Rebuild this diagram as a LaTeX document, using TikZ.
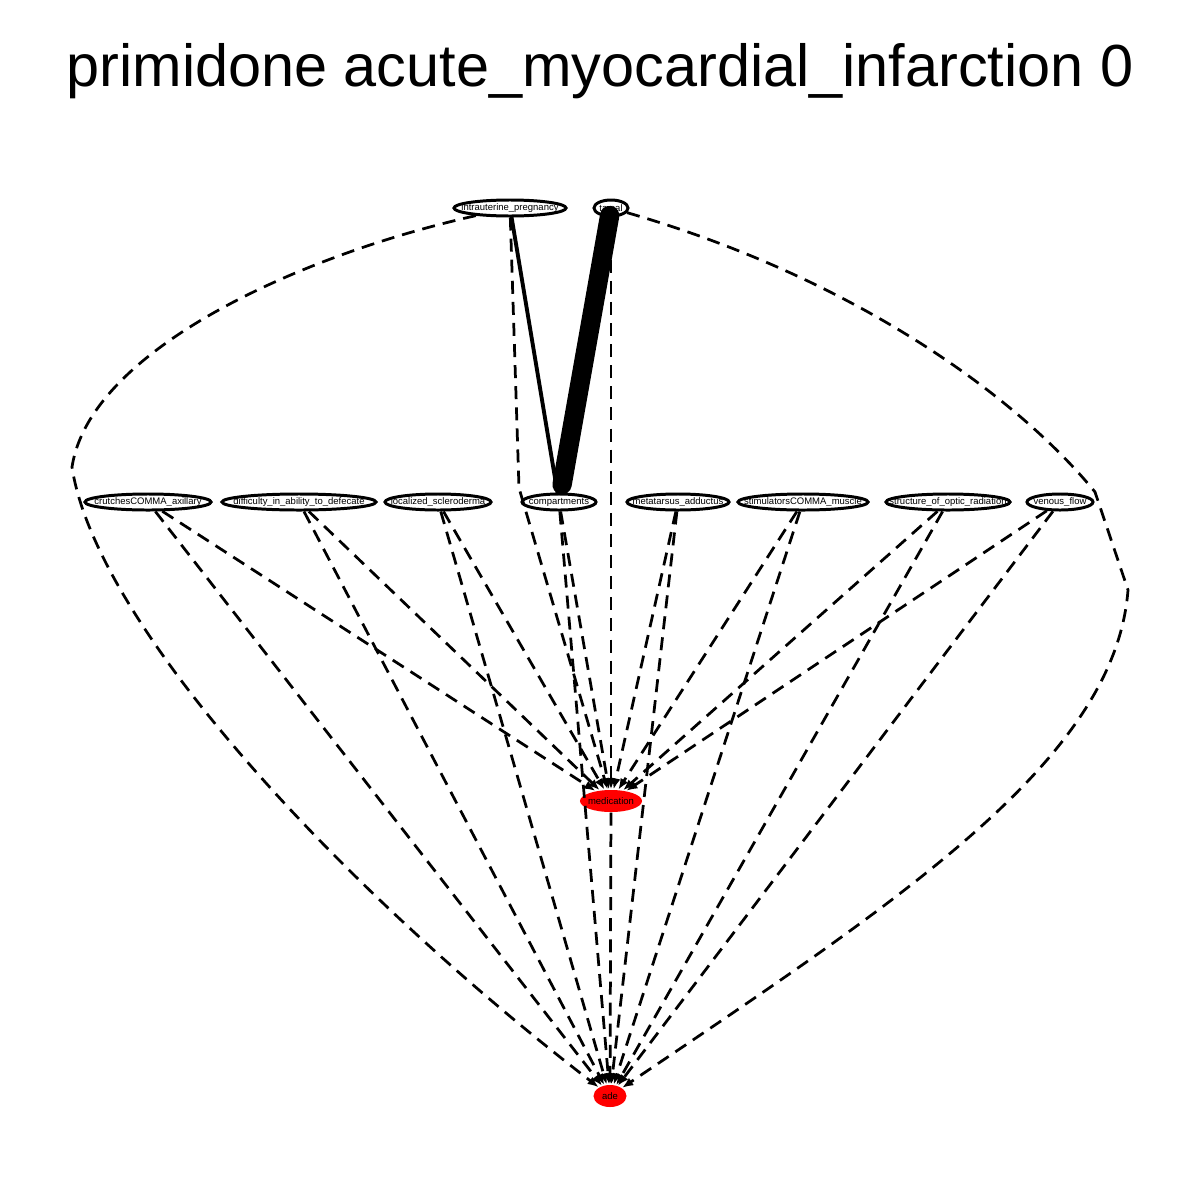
\documentclass[tikz,border=0pt]{standalone}
\usepackage{fontspec}
\setmainfont{Liberation Sans}
\usetikzlibrary{positioning,arrows.meta,shapes.geometric}

\begin{document}
\begin{tikzpicture}[x=0.01cm, y=-0.01cm,
    ent/.style={draw, ellipse, line width=0.85pt, fill=white, inner sep=0pt, minimum height=0.16cm},
    hit/.style={ellipse, fill=red, inner sep=0pt, minimum height=0.22cm},
    lbl/.style={font=\fontsize{2.7}{3}\selectfont, inner sep=0pt},
    dsh/.style={-{Latex[length=1.1mm, width=0.9mm]}, line width=0.78pt, dash pattern=on 3.7pt off 2.3pt},
    wt/.style={line width=#1, line cap=round}]
  \useasboundingbox (0,0) rectangle (1200,1200);
  \node[font=\fontsize{16.9}{20}\selectfont, anchor=base] (title) at (600,87) {primidone acute\_myocardial\_infarction 0};
  \node[ent, minimum width=1.12cm, label={[lbl]center:intrauterine\_pregnancy}] (intr) at (510,208) {};
  \node[ent, minimum width=0.34cm, label={[lbl]center:tarsal}] (tars) at (611,208) {};
  \node[ent, minimum width=1.26cm, label={[lbl]center:crutchesCOMMA\_axillary}] (crut) at (148,502) {};
  \node[ent, minimum width=1.54cm, label={[lbl]center:difficulty\_in\_ability\_to\_defecate}] (diff) at (299,502) {};
  \node[ent, minimum width=1.06cm, label={[lbl]center:localized\_scleroderma}] (locs) at (438,502) {};
  \node[ent, minimum width=0.74cm, label={[lbl]center:compartments}] (comp) at (559,502) {};
  \node[ent, minimum width=1.02cm, label={[lbl]center:metatarsus\_adductus}] (meta) at (678,502) {};
  \node[ent, minimum width=1.30cm, label={[lbl]center:stimulatorsCOMMA\_muscle}] (stim) at (803,502) {};
  \node[ent, minimum width=1.24cm, label={[lbl]center:structure\_of\_optic\_radiation}] (stru) at (948,502) {};
  \node[ent, minimum width=0.66cm, label={[lbl]center:venous\_flow}] (veno) at (1060,502) {};
  \node[hit, minimum width=0.62cm, label={[lbl]center:medication}] (med) at (611,801) {};
  \node[hit, minimum width=0.33cm, label={[lbl]center:ade}] (ade) at (610,1096) {};
  \foreach \a in {crut, diff, locs, comp, meta, stim, stru, veno} {
    \draw[dsh] (\a) -- (med);
    \draw[dsh] (\a) -- (ade);
  }
  \draw[dsh] (med) -- (ade);
  \draw[dsh] (tars) -- (med);
  \draw[dsh] (intr) -- (519,488) -- (med);
  \draw[dsh] (intr) .. controls (300,255) and (90,350) .. (72,467) .. controls (95,620) and (330,880) .. (ade);
  \draw[dsh] (tars) .. controls (860,280) and (1020,400) .. (1095,492) -- (1128,590) .. controls (1115,760) and (900,900) .. (ade);
  \draw[wt=1.1pt] (intr) -- (comp);
  \draw[wt=5.5pt, shorten <=-0.02cm, shorten >=0.08cm] (tars) -- (comp);
\end{tikzpicture}
\end{document}
